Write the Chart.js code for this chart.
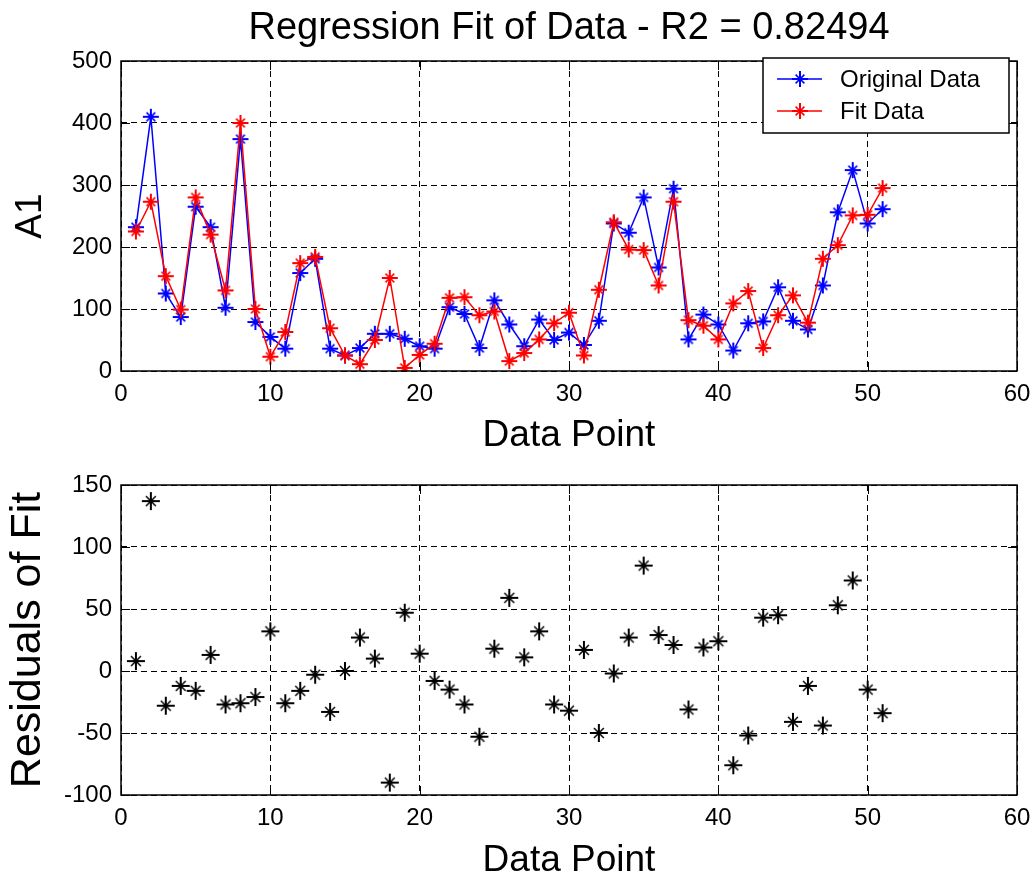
<!DOCTYPE html>
<html>
<head>
<meta charset="utf-8">
<title>Regression Fit of Data</title>
<script src="https://cdn.jsdelivr.net/npm/chart.js@4.4.1/dist/chart.umd.min.js"></script>
<style>
  body { margin: 0; background: #fff; }
  canvas { position: absolute; left: 0; }
  #fitChart { top: 0; }
  #residChart { top: 460px; }
</style>
</head>
<body>
<canvas id="fitChart" width="1036" height="460"></canvas>
<canvas id="residChart" width="1036" height="418"></canvas>
<script>
// Data point index and the measured / fitted A1 values
const dataPoints = [1, 2, 3, 4, 5, 6, 7, 8, 9, 10, 11, 12, 13, 14, 15, 16, 17, 18, 19, 20,
    21, 22, 23, 24, 25, 26, 27, 28, 29, 30, 31, 32, 33, 34, 35, 36, 37, 38, 39, 40,
    41, 42, 43, 44, 45, 46, 47, 48, 49, 50, 51];
const originalData = [232, 410, 125, 87, 265, 232, 102, 374, 79, 55, 36, 158, 181, 36, 25, 37, 60, 60, 52, 40,
    36, 103, 92, 37, 114, 75, 40, 83, 50, 62, 42, 81, 238, 223, 280, 167, 294, 51, 91, 75,
    33, 77, 80, 135, 81, 67, 138, 256, 324, 238, 261];
const fitData = [225, 273, 153, 99, 280, 220, 130, 400, 100, 23, 63, 174, 184, 69, 25, 11, 50, 150, 5, 26,
    44, 118, 119, 90, 96, 16, 29, 51, 77, 94, 25, 131, 240, 196, 195, 138, 273, 82, 73, 51,
    109, 129, 37, 90, 122, 78, 181, 203, 251, 252, 295];
const residuals = [8, 137, -28, -12, -16, 13, -27, -26, -21, 32, -26, -16, -3, -33, 0, 27, 10, -90, 47, 14,
    -8, -15, -27, -53, 18, 59, 11, 32, -27, -32, 17, -50, -2, 27, 85, 29, 21, -31, 19, 24,
    -76, -52, 43, 45, -41, -12, -44, 53, 73, -15, -34];

const xTicks = [0, 10, 20, 30, 40, 50, 60];
const a1Ticks = [0, 100, 200, 300, 400, 500];
const residTicks = [-100, -50, 0, 50, 100, 150];

const r2Value = '0.82494';

Chart.defaults.font.family = '"Liberation Sans", Arial, sans-serif';
Chart.defaults.color = '#000';

function toPoints(ys) {
    return dataPoints.map((x, i) => ({ x: x, y: ys[i] }));
}

function fixedTicks(values) {
    return function(scale) {
        scale.ticks = values.map(v => ({ value: v }));
    };
}

// matlab-like '*' marker: long plus arms, short diagonals
function asterisk(color, arm) {
    const size = arm * 2 + 4;
    const c = document.createElement('canvas');
    c.width = size;
    c.height = size;
    const g = c.getContext('2d');
    const m = size / 2;
    const d = arm * 0.55;
    g.strokeStyle = color;
    g.lineWidth = 2;
    g.beginPath();
    g.moveTo(m - arm, m); g.lineTo(m + arm, m);
    g.moveTo(m, m - arm); g.lineTo(m, m + arm);
    g.stroke();
    g.lineWidth = 1.5;
    g.beginPath();
    g.moveTo(m - d, m - d); g.lineTo(m + d, m + d);
    g.moveTo(m - d, m + d); g.lineTo(m + d, m - d);
    g.stroke();
    return c;
}

const blueStar = asterisk('#0000ff', 8);
const redStar = asterisk('#ff0000', 8);
const blackStar = asterisk('#000000', 9);

// solid box around the plot with short inward tick marks on every side
const axesFrame = {
    id: 'axesFrame',
    afterDraw(chart) {
        const { ctx, chartArea: a, scales } = chart;
        const len = 9;
        ctx.save();
        ctx.strokeStyle = '#000';
        ctx.lineWidth = 1;
        ctx.setLineDash([]);
        ctx.beginPath();
        scales.x.ticks.forEach(t => {
            const px = Math.round(scales.x.getPixelForValue(t.value)) + 0.5;
            ctx.moveTo(px, a.bottom); ctx.lineTo(px, a.bottom - len);
            ctx.moveTo(px, a.top); ctx.lineTo(px, a.top + len);
        });
        scales.y.ticks.forEach(t => {
            const py = Math.round(scales.y.getPixelForValue(t.value)) + 0.5;
            ctx.moveTo(a.left, py); ctx.lineTo(a.left + len, py);
            ctx.moveTo(a.right, py); ctx.lineTo(a.right - len, py);
        });
        ctx.stroke();
        ctx.lineWidth = 1.5;
        ctx.strokeRect(a.left, a.top, a.right - a.left, a.bottom - a.top);
        ctx.restore();
    }
};

// boxed legend in the upper right corner, line sample with a star marker
const boxLegend = {
    id: 'boxLegend',
    afterDraw(chart) {
        const { ctx, chartArea: a } = chart;
        const w = 246, h = 75;
        const left = a.right - 8 - w, top = a.top - 3;
        ctx.save();
        ctx.setLineDash([]);
        ctx.fillStyle = '#fff';
        ctx.fillRect(left, top, w, h);
        ctx.strokeStyle = '#000';
        ctx.lineWidth = 1.5;
        ctx.strokeRect(left, top, w, h);
        ctx.font = '24px "Liberation Sans", Arial, sans-serif';
        ctx.textBaseline = 'middle';
        chart.data.datasets.slice().reverse().forEach((ds, i) => {
            const y = top + 21 + i * 32;
            const mk = ds.pointStyle;
            ctx.strokeStyle = ds.borderColor;
            ctx.lineWidth = 1.5;
            ctx.beginPath();
            ctx.moveTo(left + 14, y); ctx.lineTo(left + 59, y);
            ctx.stroke();
            ctx.drawImage(mk, left + 37 - mk.width / 2, y - mk.height / 2);
            ctx.fillStyle = '#000';
            ctx.fillText(ds.label, left + 77, y + 1);
        });
        ctx.restore();
    }
};

function xScale(axisHeight, titleBottom) {
    return {
        type: 'linear',
        min: xTicks[0],
        max: xTicks[xTicks.length - 1],
        afterBuildTicks: fixedTicks(xTicks),
        afterFit(scale) { scale.height = axisHeight; scale.paddingLeft = 0; scale.paddingRight = 0; },
        grid: { color: '#000', lineWidth: 1, drawTicks: false, tickLength: 0 },
        border: { display: false, dash: [6, 4] },
        ticks: { font: { size: 24 }, padding: 9, maxRotation: 0 },
        title: {
            display: true, text: 'Data Point',
            font: { size: 37, lineHeight: 1 },
            padding: { top: 0, bottom: titleBottom }
        }
    };
}

function yScale(ticks, label, size, pad) {
    return {
        type: 'linear',
        min: ticks[0],
        max: ticks[ticks.length - 1],
        afterBuildTicks: fixedTicks(ticks),
        afterFit(scale) { scale.width = 121; scale.paddingTop = 0; scale.paddingBottom = 0; },
        grid: { color: '#000', lineWidth: 1, drawTicks: false, tickLength: 0 },
        border: { display: false, dash: [6, 4] },
        ticks: { font: { size: 24 }, padding: 9 },
        title: {
            display: true, text: label,
            font: { size: size, lineHeight: 1 },
            padding: { top: pad, bottom: 0 }
        }
    };
}

new Chart(document.getElementById('fitChart'), {
    type: 'line',
    data: {
        datasets: [{
            label: 'Fit Data',
            data: toPoints(fitData),
            borderColor: '#ff0000',
            borderWidth: 1.5,
            pointStyle: redStar,
            order: 0
        }, {
            label: 'Original Data',
            data: toPoints(originalData),
            borderColor: '#0000ff',
            borderWidth: 1.5,
            pointStyle: blueStar,
            order: 1
        }]
    },
    options: {
        responsive: false,
        animation: false,
        events: [],
        layout: { padding: { left: 0, right: 19, top: 0, bottom: 0 } },
        plugins: {
            legend: { display: false },
            tooltip: { enabled: false },
            title: {
                display: true,
                fullSize: false,
                text: 'Regression Fit of Data - R2 = ' + r2Value,
                color: '#000',
                font: { size: 38, weight: 'normal', lineHeight: 1.2 },
                padding: { top: 6, bottom: 9.4 }
            }
        },
        scales: {
            x: xScale(89, 5.5),
            y: yScale(a1Ticks, 'A1', 37, 12.5)
        }
    },
    plugins: [axesFrame, boxLegend]
});

new Chart(document.getElementById('residChart'), {
    type: 'line',
    data: {
        datasets: [{
            label: 'Residuals',
            data: toPoints(residuals),
            showLine: false,
            pointStyle: blackStar
        }]
    },
    options: {
        responsive: false,
        animation: false,
        events: [],
        layout: { padding: { left: 0, right: 19, top: 25, bottom: 0 } },
        plugins: {
            legend: { display: false },
            tooltip: { enabled: false }
        },
        scales: {
            x: xScale(83, -1.5),
            y: yScale(residTicks, 'Residuals of Fit', 43, 6.5)
        }
    },
    plugins: [axesFrame]
});
</script>
</body>
</html>
